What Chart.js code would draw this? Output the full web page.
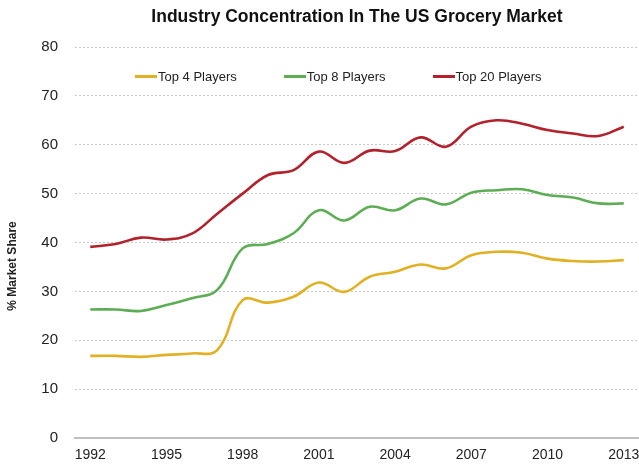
<!DOCTYPE html>
<html>
<head>
<meta charset="utf-8">
<script src="https://cdn.jsdelivr.net/npm/chart.js@4.4.1/dist/chart.umd.min.js"></script>
<style>
  html, body { margin: 0; padding: 0; background: #fff; }
  #wrap { position: relative; width: 639px; height: 466px; }
  #legend {
    position: absolute; top: 69px; left: 135px;
    display: flex; gap: 47px;
    font: 13px "Liberation Sans", Arial, sans-serif; color: #222;
  }
  .item { display: flex; align-items: center; }
  .swatch { width: 22px; height: 2.5px; margin-right: 1px; }
</style>
</head>
<body>
<div id="wrap">
  <canvas id="chart" width="639" height="466"></canvas>
  <div id="legend"></div>
</div>
<script>
// yearly data
const years = [1992, 1993, 1994, 1995, 1996, 1997, 1998, 1999, 2000, 2001, 2002,
               2003, 2004, 2005, 2006, 2007, 2008, 2009, 2010, 2011, 2012, 2013]
const top4  = [16.8, 16.8, 16.6, 17.0, 17.3, 18.0, 28.2, 27.7, 28.9, 31.8, 29.9,
               33.0, 34.0, 35.5, 34.7, 37.4, 38.1, 37.9, 36.7, 36.2, 36.1, 36.4]
const top8  = [26.3, 26.3, 26.0, 27.2, 28.6, 30.3, 38.8, 39.7, 41.9, 46.6, 44.5,
               47.3, 46.6, 49.0, 47.8, 50.2, 50.7, 50.9, 49.7, 49.2, 48.0, 48.0]
const top20 = [39.1, 39.7, 41.0, 40.6, 41.8, 45.9, 50.0, 53.8, 54.8, 58.6, 56.3,
               58.8, 58.7, 61.5, 59.6, 63.7, 65.0, 64.3, 63.0, 62.3, 61.8, 63.7]
const xTicks = [1992, 1995, 1998, 2001, 2004, 2007, 2010, 2013]

const font = "'Liberation Sans', Arial, sans-serif"

const series = [
  { label: "Top 4 Players",  data: top4,  color: "#e2b023" },
  { label: "Top 8 Players",  data: top8,  color: "#5dad55" },
  { label: "Top 20 Players", data: top20, color: "#b3212c" }
]

// y axis title sits a bit below the middle, so draw it by hand
const yTitle = {
  id: "yTitle",
  afterDraw(chart) {
    const { ctx, chartArea } = chart
    ctx.save()
    ctx.translate(13, chartArea.top + 0.56 * (chartArea.bottom - chartArea.top))
    ctx.rotate(-Math.PI / 2)
    ctx.font = "bold 12px " + font
    ctx.fillStyle = "#222"
    ctx.textAlign = "center"
    ctx.textBaseline = "middle"
    ctx.fillText("% Market Share", 0, 0)
    ctx.restore()
  }
}

const chart = new Chart(document.getElementById("chart"), {
  type: "line",
  data: {
    datasets: series.map(s => ({
      label: s.label,
      data: years.map((y, i) => ({ x: y, y: s.data[i] })),
      borderColor: s.color,
      backgroundColor: s.color,
      borderWidth: 2.6,
      pointRadius: 0,
      tension: 0.4
    }))
  },
  options: {
    responsive: false,
    animation: false,
    layout: { padding: 0 },
    plugins: {
      legend: { display: false },
      tooltip: { enabled: false },
      title: {
        display: true,
        fullSize: false,
        text: "Industry Concentration In The US Grocery Market",
        color: "#111",
        font: { family: font, size: 17.5, weight: "bold" },
        padding: { top: 7, bottom: 19 }
      }
    },
    scales: {
      x: {
        type: "linear",
        min: 1991.4,
        max: 2013.6,
        afterBuildTicks: (scale) => { scale.ticks = xTicks.map(v => ({ value: v })) },
        afterFit: (scale) => { scale.paddingRight = 0; scale.height = 28 },
        grid: { display: false, drawTicks: false },
        border: { display: true, color: "#c0c0c0", width: 2 },
        ticks: {
          color: "#222",
          padding: 9,
          maxRotation: 0,
          autoSkip: false,
          font: { family: font, size: 14 },
          callback: (v) => String(v)
        }
      },
      y: {
        min: 0,
        max: 80,
        afterFit: (scale) => { scale.width = 75 },
        grid: { color: "#c8c8c8", lineWidth: 1, drawTicks: false },
        border: { display: false, dash: [2, 2] },
        ticks: {
          stepSize: 10,
          color: "#222",
          padding: 17,
          font: { family: font, size: 15 }
        }
      }
    }
  },
  plugins: [yTitle]
})

// legend inside the plot, built from the datasets
const legend = document.getElementById("legend")
chart.data.datasets.forEach(ds => {
  const item = document.createElement("div")
  item.className = "item"
  item.innerHTML = `<span class="swatch" style="background:${ds.borderColor}"></span><span>${ds.label}</span>`
  legend.appendChild(item)
})
</script>
</body>
</html>
